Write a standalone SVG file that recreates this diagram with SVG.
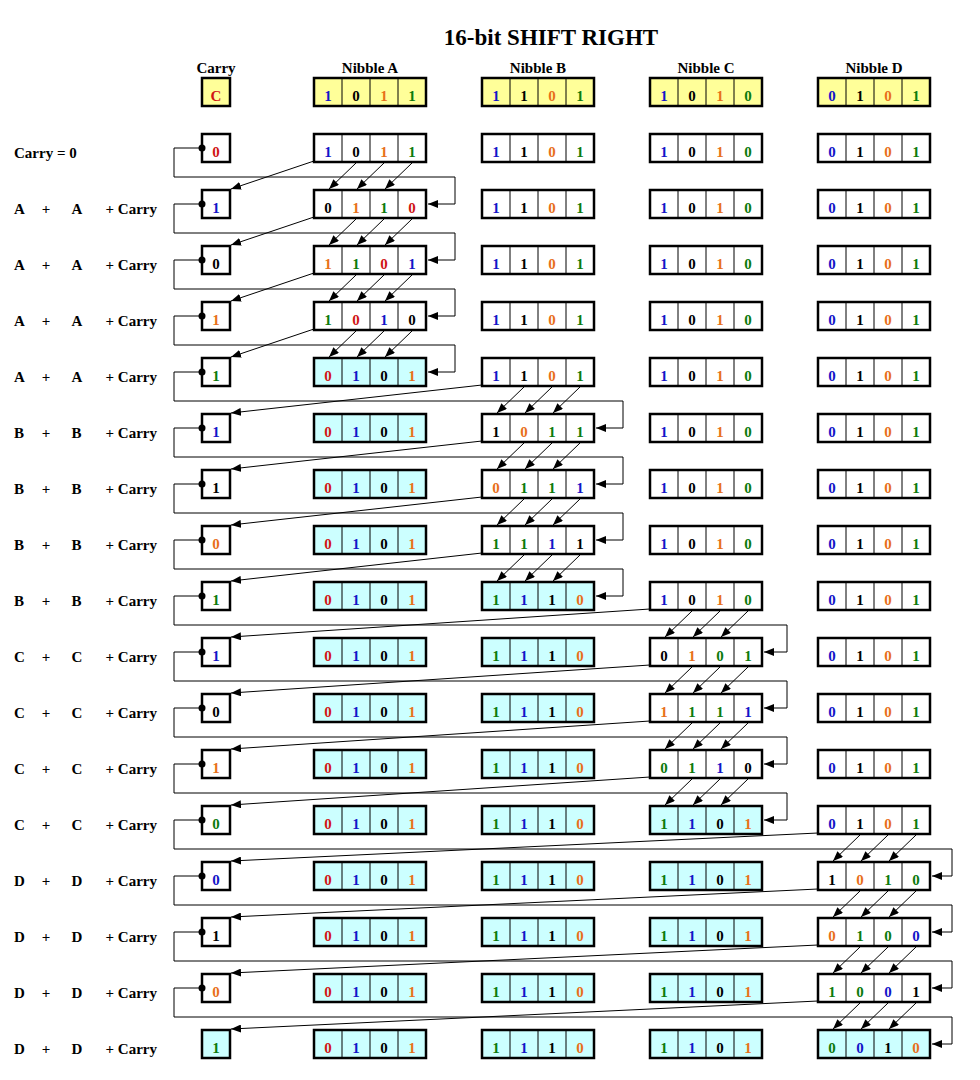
<svg xmlns="http://www.w3.org/2000/svg" xmlns:xlink="http://www.w3.org/1999/xlink" width="980" height="1080" viewBox="0 0 980 1080">
<style>
text{font-family:"Liberation Serif","Times New Roman",serif;font-weight:bold;fill:#000}
.t{font-size:23px;text-anchor:middle}
.h{font-size:15px;text-anchor:middle}
.l text{font-size:15px;fill:#000}
.l .m{text-anchor:middle}
.l .e{text-anchor:end}
.d{font-size:15px;text-anchor:middle}
.w{fill:#ffffff}.y{fill:#ffff99}.c{fill:#ccffff}
.b{fill:#1414c8}.k{fill:#000000}.o{fill:#e8701a}.g{fill:#0c7a0c}.r{fill:#d01515}
.cn path{fill:none;stroke:#000;stroke-width:1}
.cn circle{fill:#000}
.a{marker-end:url(#ah)}
</style>
<defs>
<marker id="ah" markerWidth="11" markerHeight="8" refX="10" refY="4" orient="auto" markerUnits="userSpaceOnUse"><path d="M0,0L10,4L0,8z" fill="#000"/></marker>
<g id="nib"><rect x="0" y="0" width="112" height="28" stroke="#000" stroke-width="2.5"/><path d="M28,0V28M56,0V28M84,0V28" stroke="#000" stroke-width="1" fill="none"/></g>
<rect id="cb" x="0" y="0" width="28" height="28" stroke="#000" stroke-width="2.5"/>
</defs>
<rect width="980" height="1080" fill="#fff"/>
<text class="t" x="551" y="45">16-bit SHIFT RIGHT</text>
<g id="headers">
<text class="h" x="216" y="73">Carry</text>
<text class="h" x="370" y="73">Nibble A</text>
<text class="h" x="538" y="73">Nibble B</text>
<text class="h" x="706" y="73">Nibble C</text>
<text class="h" x="874" y="73">Nibble D</text>
</g>
<g id="labels" class="l">
<text x="14" y="157.5">Carry = 0</text>
<text x="14" y="213.5">A</text><text class="m" x="46" y="213.5">+</text><text x="71.5" y="213.5">A</text><text class="e" x="157" y="213.5">+ Carry</text>
<text x="14" y="269.5">A</text><text class="m" x="46" y="269.5">+</text><text x="71.5" y="269.5">A</text><text class="e" x="157" y="269.5">+ Carry</text>
<text x="14" y="325.5">A</text><text class="m" x="46" y="325.5">+</text><text x="71.5" y="325.5">A</text><text class="e" x="157" y="325.5">+ Carry</text>
<text x="14" y="381.5">A</text><text class="m" x="46" y="381.5">+</text><text x="71.5" y="381.5">A</text><text class="e" x="157" y="381.5">+ Carry</text>
<text x="14" y="437.5">B</text><text class="m" x="46" y="437.5">+</text><text x="71.5" y="437.5">B</text><text class="e" x="157" y="437.5">+ Carry</text>
<text x="14" y="493.5">B</text><text class="m" x="46" y="493.5">+</text><text x="71.5" y="493.5">B</text><text class="e" x="157" y="493.5">+ Carry</text>
<text x="14" y="549.5">B</text><text class="m" x="46" y="549.5">+</text><text x="71.5" y="549.5">B</text><text class="e" x="157" y="549.5">+ Carry</text>
<text x="14" y="605.5">B</text><text class="m" x="46" y="605.5">+</text><text x="71.5" y="605.5">B</text><text class="e" x="157" y="605.5">+ Carry</text>
<text x="14" y="661.5">C</text><text class="m" x="46" y="661.5">+</text><text x="71.5" y="661.5">C</text><text class="e" x="157" y="661.5">+ Carry</text>
<text x="14" y="717.5">C</text><text class="m" x="46" y="717.5">+</text><text x="71.5" y="717.5">C</text><text class="e" x="157" y="717.5">+ Carry</text>
<text x="14" y="773.5">C</text><text class="m" x="46" y="773.5">+</text><text x="71.5" y="773.5">C</text><text class="e" x="157" y="773.5">+ Carry</text>
<text x="14" y="829.5">C</text><text class="m" x="46" y="829.5">+</text><text x="71.5" y="829.5">C</text><text class="e" x="157" y="829.5">+ Carry</text>
<text x="14" y="885.5">D</text><text class="m" x="46" y="885.5">+</text><text x="71.5" y="885.5">D</text><text class="e" x="157" y="885.5">+ Carry</text>
<text x="14" y="941.5">D</text><text class="m" x="46" y="941.5">+</text><text x="71.5" y="941.5">D</text><text class="e" x="157" y="941.5">+ Carry</text>
<text x="14" y="997.5">D</text><text class="m" x="46" y="997.5">+</text><text x="71.5" y="997.5">D</text><text class="e" x="157" y="997.5">+ Carry</text>
<text x="14" y="1053.5">D</text><text class="m" x="46" y="1053.5">+</text><text x="71.5" y="1053.5">D</text><text class="e" x="157" y="1053.5">+ Carry</text>
</g>

<!-- header row -->
<g id="h-carry"><use href="#cb" x="202" y="78" class="y"/><text class="d" y="101"><tspan x="216" class="r">C</tspan></text></g>
<g id="h-A"><use href="#nib" x="314" y="78" class="y"/><text class="d" y="101"><tspan x="328" class="b">1</tspan><tspan x="356" class="k">0</tspan><tspan x="384" class="o">1</tspan><tspan x="412" class="g">1</tspan></text></g>
<g id="h-B"><use href="#nib" x="482" y="78" class="y"/><text class="d" y="101"><tspan x="496" class="b">1</tspan><tspan x="524" class="k">1</tspan><tspan x="552" class="o">0</tspan><tspan x="580" class="g">1</tspan></text></g>
<g id="h-C"><use href="#nib" x="650" y="78" class="y"/><text class="d" y="101"><tspan x="664" class="b">1</tspan><tspan x="692" class="k">0</tspan><tspan x="720" class="o">1</tspan><tspan x="748" class="g">0</tspan></text></g>
<g id="h-D"><use href="#nib" x="818" y="78" class="y"/><text class="d" y="101"><tspan x="832" class="b">0</tspan><tspan x="860" class="k">1</tspan><tspan x="888" class="o">0</tspan><tspan x="916" class="g">1</tspan></text></g>

<!-- row 0 -->
<g id="r0-carry"><use href="#cb" x="202" y="134" class="w"/><text class="d" y="157"><tspan x="216" class="r">0</tspan></text></g>
<g id="r0-A"><use href="#nib" x="314" y="134" class="w"/><text class="d" y="157"><tspan x="328" class="b">1</tspan><tspan x="356" class="k">0</tspan><tspan x="384" class="o">1</tspan><tspan x="412" class="g">1</tspan></text></g>
<g id="r0-B"><use href="#nib" x="482" y="134" class="w"/><text class="d" y="157"><tspan x="496" class="b">1</tspan><tspan x="524" class="k">1</tspan><tspan x="552" class="o">0</tspan><tspan x="580" class="g">1</tspan></text></g>
<g id="r0-C"><use href="#nib" x="650" y="134" class="w"/><text class="d" y="157"><tspan x="664" class="b">1</tspan><tspan x="692" class="k">0</tspan><tspan x="720" class="o">1</tspan><tspan x="748" class="g">0</tspan></text></g>
<g id="r0-D"><use href="#nib" x="818" y="134" class="w"/><text class="d" y="157"><tspan x="832" class="b">0</tspan><tspan x="860" class="k">1</tspan><tspan x="888" class="o">0</tspan><tspan x="916" class="g">1</tspan></text></g>

<!-- row 1 -->
<g id="r1-carry"><use href="#cb" x="202" y="190" class="w"/><text class="d" y="213"><tspan x="216" class="b">1</tspan></text></g>
<g id="r1-A"><use href="#nib" x="314" y="190" class="w"/><text class="d" y="213"><tspan x="328" class="k">0</tspan><tspan x="356" class="o">1</tspan><tspan x="384" class="g">1</tspan><tspan x="412" class="r">0</tspan></text></g>
<g id="r1-B"><use href="#nib" x="482" y="190" class="w"/><text class="d" y="213"><tspan x="496" class="b">1</tspan><tspan x="524" class="k">1</tspan><tspan x="552" class="o">0</tspan><tspan x="580" class="g">1</tspan></text></g>
<g id="r1-C"><use href="#nib" x="650" y="190" class="w"/><text class="d" y="213"><tspan x="664" class="b">1</tspan><tspan x="692" class="k">0</tspan><tspan x="720" class="o">1</tspan><tspan x="748" class="g">0</tspan></text></g>
<g id="r1-D"><use href="#nib" x="818" y="190" class="w"/><text class="d" y="213"><tspan x="832" class="b">0</tspan><tspan x="860" class="k">1</tspan><tspan x="888" class="o">0</tspan><tspan x="916" class="g">1</tspan></text></g>

<!-- row 2 -->
<g id="r2-carry"><use href="#cb" x="202" y="246" class="w"/><text class="d" y="269"><tspan x="216" class="k">0</tspan></text></g>
<g id="r2-A"><use href="#nib" x="314" y="246" class="w"/><text class="d" y="269"><tspan x="328" class="o">1</tspan><tspan x="356" class="g">1</tspan><tspan x="384" class="r">0</tspan><tspan x="412" class="b">1</tspan></text></g>
<g id="r2-B"><use href="#nib" x="482" y="246" class="w"/><text class="d" y="269"><tspan x="496" class="b">1</tspan><tspan x="524" class="k">1</tspan><tspan x="552" class="o">0</tspan><tspan x="580" class="g">1</tspan></text></g>
<g id="r2-C"><use href="#nib" x="650" y="246" class="w"/><text class="d" y="269"><tspan x="664" class="b">1</tspan><tspan x="692" class="k">0</tspan><tspan x="720" class="o">1</tspan><tspan x="748" class="g">0</tspan></text></g>
<g id="r2-D"><use href="#nib" x="818" y="246" class="w"/><text class="d" y="269"><tspan x="832" class="b">0</tspan><tspan x="860" class="k">1</tspan><tspan x="888" class="o">0</tspan><tspan x="916" class="g">1</tspan></text></g>

<!-- row 3 -->
<g id="r3-carry"><use href="#cb" x="202" y="302" class="w"/><text class="d" y="325"><tspan x="216" class="o">1</tspan></text></g>
<g id="r3-A"><use href="#nib" x="314" y="302" class="w"/><text class="d" y="325"><tspan x="328" class="g">1</tspan><tspan x="356" class="r">0</tspan><tspan x="384" class="b">1</tspan><tspan x="412" class="k">0</tspan></text></g>
<g id="r3-B"><use href="#nib" x="482" y="302" class="w"/><text class="d" y="325"><tspan x="496" class="b">1</tspan><tspan x="524" class="k">1</tspan><tspan x="552" class="o">0</tspan><tspan x="580" class="g">1</tspan></text></g>
<g id="r3-C"><use href="#nib" x="650" y="302" class="w"/><text class="d" y="325"><tspan x="664" class="b">1</tspan><tspan x="692" class="k">0</tspan><tspan x="720" class="o">1</tspan><tspan x="748" class="g">0</tspan></text></g>
<g id="r3-D"><use href="#nib" x="818" y="302" class="w"/><text class="d" y="325"><tspan x="832" class="b">0</tspan><tspan x="860" class="k">1</tspan><tspan x="888" class="o">0</tspan><tspan x="916" class="g">1</tspan></text></g>

<!-- row 4 -->
<g id="r4-carry"><use href="#cb" x="202" y="358" class="w"/><text class="d" y="381"><tspan x="216" class="g">1</tspan></text></g>
<g id="r4-A"><use href="#nib" x="314" y="358" class="c"/><text class="d" y="381"><tspan x="328" class="r">0</tspan><tspan x="356" class="b">1</tspan><tspan x="384" class="k">0</tspan><tspan x="412" class="o">1</tspan></text></g>
<g id="r4-B"><use href="#nib" x="482" y="358" class="w"/><text class="d" y="381"><tspan x="496" class="b">1</tspan><tspan x="524" class="k">1</tspan><tspan x="552" class="o">0</tspan><tspan x="580" class="g">1</tspan></text></g>
<g id="r4-C"><use href="#nib" x="650" y="358" class="w"/><text class="d" y="381"><tspan x="664" class="b">1</tspan><tspan x="692" class="k">0</tspan><tspan x="720" class="o">1</tspan><tspan x="748" class="g">0</tspan></text></g>
<g id="r4-D"><use href="#nib" x="818" y="358" class="w"/><text class="d" y="381"><tspan x="832" class="b">0</tspan><tspan x="860" class="k">1</tspan><tspan x="888" class="o">0</tspan><tspan x="916" class="g">1</tspan></text></g>

<!-- row 5 -->
<g id="r5-carry"><use href="#cb" x="202" y="414" class="w"/><text class="d" y="437"><tspan x="216" class="b">1</tspan></text></g>
<g id="r5-A"><use href="#nib" x="314" y="414" class="c"/><text class="d" y="437"><tspan x="328" class="r">0</tspan><tspan x="356" class="b">1</tspan><tspan x="384" class="k">0</tspan><tspan x="412" class="o">1</tspan></text></g>
<g id="r5-B"><use href="#nib" x="482" y="414" class="w"/><text class="d" y="437"><tspan x="496" class="k">1</tspan><tspan x="524" class="o">0</tspan><tspan x="552" class="g">1</tspan><tspan x="580" class="g">1</tspan></text></g>
<g id="r5-C"><use href="#nib" x="650" y="414" class="w"/><text class="d" y="437"><tspan x="664" class="b">1</tspan><tspan x="692" class="k">0</tspan><tspan x="720" class="o">1</tspan><tspan x="748" class="g">0</tspan></text></g>
<g id="r5-D"><use href="#nib" x="818" y="414" class="w"/><text class="d" y="437"><tspan x="832" class="b">0</tspan><tspan x="860" class="k">1</tspan><tspan x="888" class="o">0</tspan><tspan x="916" class="g">1</tspan></text></g>

<!-- row 6 -->
<g id="r6-carry"><use href="#cb" x="202" y="470" class="w"/><text class="d" y="493"><tspan x="216" class="k">1</tspan></text></g>
<g id="r6-A"><use href="#nib" x="314" y="470" class="c"/><text class="d" y="493"><tspan x="328" class="r">0</tspan><tspan x="356" class="b">1</tspan><tspan x="384" class="k">0</tspan><tspan x="412" class="o">1</tspan></text></g>
<g id="r6-B"><use href="#nib" x="482" y="470" class="w"/><text class="d" y="493"><tspan x="496" class="o">0</tspan><tspan x="524" class="g">1</tspan><tspan x="552" class="g">1</tspan><tspan x="580" class="b">1</tspan></text></g>
<g id="r6-C"><use href="#nib" x="650" y="470" class="w"/><text class="d" y="493"><tspan x="664" class="b">1</tspan><tspan x="692" class="k">0</tspan><tspan x="720" class="o">1</tspan><tspan x="748" class="g">0</tspan></text></g>
<g id="r6-D"><use href="#nib" x="818" y="470" class="w"/><text class="d" y="493"><tspan x="832" class="b">0</tspan><tspan x="860" class="k">1</tspan><tspan x="888" class="o">0</tspan><tspan x="916" class="g">1</tspan></text></g>

<!-- row 7 -->
<g id="r7-carry"><use href="#cb" x="202" y="526" class="w"/><text class="d" y="549"><tspan x="216" class="o">0</tspan></text></g>
<g id="r7-A"><use href="#nib" x="314" y="526" class="c"/><text class="d" y="549"><tspan x="328" class="r">0</tspan><tspan x="356" class="b">1</tspan><tspan x="384" class="k">0</tspan><tspan x="412" class="o">1</tspan></text></g>
<g id="r7-B"><use href="#nib" x="482" y="526" class="w"/><text class="d" y="549"><tspan x="496" class="g">1</tspan><tspan x="524" class="g">1</tspan><tspan x="552" class="b">1</tspan><tspan x="580" class="k">1</tspan></text></g>
<g id="r7-C"><use href="#nib" x="650" y="526" class="w"/><text class="d" y="549"><tspan x="664" class="b">1</tspan><tspan x="692" class="k">0</tspan><tspan x="720" class="o">1</tspan><tspan x="748" class="g">0</tspan></text></g>
<g id="r7-D"><use href="#nib" x="818" y="526" class="w"/><text class="d" y="549"><tspan x="832" class="b">0</tspan><tspan x="860" class="k">1</tspan><tspan x="888" class="o">0</tspan><tspan x="916" class="g">1</tspan></text></g>

<!-- row 8 -->
<g id="r8-carry"><use href="#cb" x="202" y="582" class="w"/><text class="d" y="605"><tspan x="216" class="g">1</tspan></text></g>
<g id="r8-A"><use href="#nib" x="314" y="582" class="c"/><text class="d" y="605"><tspan x="328" class="r">0</tspan><tspan x="356" class="b">1</tspan><tspan x="384" class="k">0</tspan><tspan x="412" class="o">1</tspan></text></g>
<g id="r8-B"><use href="#nib" x="482" y="582" class="c"/><text class="d" y="605"><tspan x="496" class="g">1</tspan><tspan x="524" class="b">1</tspan><tspan x="552" class="k">1</tspan><tspan x="580" class="o">0</tspan></text></g>
<g id="r8-C"><use href="#nib" x="650" y="582" class="w"/><text class="d" y="605"><tspan x="664" class="b">1</tspan><tspan x="692" class="k">0</tspan><tspan x="720" class="o">1</tspan><tspan x="748" class="g">0</tspan></text></g>
<g id="r8-D"><use href="#nib" x="818" y="582" class="w"/><text class="d" y="605"><tspan x="832" class="b">0</tspan><tspan x="860" class="k">1</tspan><tspan x="888" class="o">0</tspan><tspan x="916" class="g">1</tspan></text></g>

<!-- row 9 -->
<g id="r9-carry"><use href="#cb" x="202" y="638" class="w"/><text class="d" y="661"><tspan x="216" class="b">1</tspan></text></g>
<g id="r9-A"><use href="#nib" x="314" y="638" class="c"/><text class="d" y="661"><tspan x="328" class="r">0</tspan><tspan x="356" class="b">1</tspan><tspan x="384" class="k">0</tspan><tspan x="412" class="o">1</tspan></text></g>
<g id="r9-B"><use href="#nib" x="482" y="638" class="c"/><text class="d" y="661"><tspan x="496" class="g">1</tspan><tspan x="524" class="b">1</tspan><tspan x="552" class="k">1</tspan><tspan x="580" class="o">0</tspan></text></g>
<g id="r9-C"><use href="#nib" x="650" y="638" class="w"/><text class="d" y="661"><tspan x="664" class="k">0</tspan><tspan x="692" class="o">1</tspan><tspan x="720" class="g">0</tspan><tspan x="748" class="g">1</tspan></text></g>
<g id="r9-D"><use href="#nib" x="818" y="638" class="w"/><text class="d" y="661"><tspan x="832" class="b">0</tspan><tspan x="860" class="k">1</tspan><tspan x="888" class="o">0</tspan><tspan x="916" class="g">1</tspan></text></g>

<!-- row 10 -->
<g id="r10-carry"><use href="#cb" x="202" y="694" class="w"/><text class="d" y="717"><tspan x="216" class="k">0</tspan></text></g>
<g id="r10-A"><use href="#nib" x="314" y="694" class="c"/><text class="d" y="717"><tspan x="328" class="r">0</tspan><tspan x="356" class="b">1</tspan><tspan x="384" class="k">0</tspan><tspan x="412" class="o">1</tspan></text></g>
<g id="r10-B"><use href="#nib" x="482" y="694" class="c"/><text class="d" y="717"><tspan x="496" class="g">1</tspan><tspan x="524" class="b">1</tspan><tspan x="552" class="k">1</tspan><tspan x="580" class="o">0</tspan></text></g>
<g id="r10-C"><use href="#nib" x="650" y="694" class="w"/><text class="d" y="717"><tspan x="664" class="o">1</tspan><tspan x="692" class="g">1</tspan><tspan x="720" class="g">1</tspan><tspan x="748" class="b">1</tspan></text></g>
<g id="r10-D"><use href="#nib" x="818" y="694" class="w"/><text class="d" y="717"><tspan x="832" class="b">0</tspan><tspan x="860" class="k">1</tspan><tspan x="888" class="o">0</tspan><tspan x="916" class="g">1</tspan></text></g>

<!-- row 11 -->
<g id="r11-carry"><use href="#cb" x="202" y="750" class="w"/><text class="d" y="773"><tspan x="216" class="o">1</tspan></text></g>
<g id="r11-A"><use href="#nib" x="314" y="750" class="c"/><text class="d" y="773"><tspan x="328" class="r">0</tspan><tspan x="356" class="b">1</tspan><tspan x="384" class="k">0</tspan><tspan x="412" class="o">1</tspan></text></g>
<g id="r11-B"><use href="#nib" x="482" y="750" class="c"/><text class="d" y="773"><tspan x="496" class="g">1</tspan><tspan x="524" class="b">1</tspan><tspan x="552" class="k">1</tspan><tspan x="580" class="o">0</tspan></text></g>
<g id="r11-C"><use href="#nib" x="650" y="750" class="w"/><text class="d" y="773"><tspan x="664" class="g">0</tspan><tspan x="692" class="g">1</tspan><tspan x="720" class="b">1</tspan><tspan x="748" class="k">0</tspan></text></g>
<g id="r11-D"><use href="#nib" x="818" y="750" class="w"/><text class="d" y="773"><tspan x="832" class="b">0</tspan><tspan x="860" class="k">1</tspan><tspan x="888" class="o">0</tspan><tspan x="916" class="g">1</tspan></text></g>

<!-- row 12 -->
<g id="r12-carry"><use href="#cb" x="202" y="806" class="w"/><text class="d" y="829"><tspan x="216" class="g">0</tspan></text></g>
<g id="r12-A"><use href="#nib" x="314" y="806" class="c"/><text class="d" y="829"><tspan x="328" class="r">0</tspan><tspan x="356" class="b">1</tspan><tspan x="384" class="k">0</tspan><tspan x="412" class="o">1</tspan></text></g>
<g id="r12-B"><use href="#nib" x="482" y="806" class="c"/><text class="d" y="829"><tspan x="496" class="g">1</tspan><tspan x="524" class="b">1</tspan><tspan x="552" class="k">1</tspan><tspan x="580" class="o">0</tspan></text></g>
<g id="r12-C"><use href="#nib" x="650" y="806" class="c"/><text class="d" y="829"><tspan x="664" class="g">1</tspan><tspan x="692" class="b">1</tspan><tspan x="720" class="k">0</tspan><tspan x="748" class="o">1</tspan></text></g>
<g id="r12-D"><use href="#nib" x="818" y="806" class="w"/><text class="d" y="829"><tspan x="832" class="b">0</tspan><tspan x="860" class="k">1</tspan><tspan x="888" class="o">0</tspan><tspan x="916" class="g">1</tspan></text></g>

<!-- row 13 -->
<g id="r13-carry"><use href="#cb" x="202" y="862" class="w"/><text class="d" y="885"><tspan x="216" class="b">0</tspan></text></g>
<g id="r13-A"><use href="#nib" x="314" y="862" class="c"/><text class="d" y="885"><tspan x="328" class="r">0</tspan><tspan x="356" class="b">1</tspan><tspan x="384" class="k">0</tspan><tspan x="412" class="o">1</tspan></text></g>
<g id="r13-B"><use href="#nib" x="482" y="862" class="c"/><text class="d" y="885"><tspan x="496" class="g">1</tspan><tspan x="524" class="b">1</tspan><tspan x="552" class="k">1</tspan><tspan x="580" class="o">0</tspan></text></g>
<g id="r13-C"><use href="#nib" x="650" y="862" class="c"/><text class="d" y="885"><tspan x="664" class="g">1</tspan><tspan x="692" class="b">1</tspan><tspan x="720" class="k">0</tspan><tspan x="748" class="o">1</tspan></text></g>
<g id="r13-D"><use href="#nib" x="818" y="862" class="w"/><text class="d" y="885"><tspan x="832" class="k">1</tspan><tspan x="860" class="o">0</tspan><tspan x="888" class="g">1</tspan><tspan x="916" class="g">0</tspan></text></g>

<!-- row 14 -->
<g id="r14-carry"><use href="#cb" x="202" y="918" class="w"/><text class="d" y="941"><tspan x="216" class="k">1</tspan></text></g>
<g id="r14-A"><use href="#nib" x="314" y="918" class="c"/><text class="d" y="941"><tspan x="328" class="r">0</tspan><tspan x="356" class="b">1</tspan><tspan x="384" class="k">0</tspan><tspan x="412" class="o">1</tspan></text></g>
<g id="r14-B"><use href="#nib" x="482" y="918" class="c"/><text class="d" y="941"><tspan x="496" class="g">1</tspan><tspan x="524" class="b">1</tspan><tspan x="552" class="k">1</tspan><tspan x="580" class="o">0</tspan></text></g>
<g id="r14-C"><use href="#nib" x="650" y="918" class="c"/><text class="d" y="941"><tspan x="664" class="g">1</tspan><tspan x="692" class="b">1</tspan><tspan x="720" class="k">0</tspan><tspan x="748" class="o">1</tspan></text></g>
<g id="r14-D"><use href="#nib" x="818" y="918" class="w"/><text class="d" y="941"><tspan x="832" class="o">0</tspan><tspan x="860" class="g">1</tspan><tspan x="888" class="g">0</tspan><tspan x="916" class="b">0</tspan></text></g>

<!-- row 15 -->
<g id="r15-carry"><use href="#cb" x="202" y="974" class="w"/><text class="d" y="997"><tspan x="216" class="o">0</tspan></text></g>
<g id="r15-A"><use href="#nib" x="314" y="974" class="c"/><text class="d" y="997"><tspan x="328" class="r">0</tspan><tspan x="356" class="b">1</tspan><tspan x="384" class="k">0</tspan><tspan x="412" class="o">1</tspan></text></g>
<g id="r15-B"><use href="#nib" x="482" y="974" class="c"/><text class="d" y="997"><tspan x="496" class="g">1</tspan><tspan x="524" class="b">1</tspan><tspan x="552" class="k">1</tspan><tspan x="580" class="o">0</tspan></text></g>
<g id="r15-C"><use href="#nib" x="650" y="974" class="c"/><text class="d" y="997"><tspan x="664" class="g">1</tspan><tspan x="692" class="b">1</tspan><tspan x="720" class="k">0</tspan><tspan x="748" class="o">1</tspan></text></g>
<g id="r15-D"><use href="#nib" x="818" y="974" class="w"/><text class="d" y="997"><tspan x="832" class="g">1</tspan><tspan x="860" class="g">0</tspan><tspan x="888" class="b">0</tspan><tspan x="916" class="k">1</tspan></text></g>

<!-- row 16 -->
<g id="r16-carry"><use href="#cb" x="202" y="1030" class="c"/><text class="d" y="1053"><tspan x="216" class="g">1</tspan></text></g>
<g id="r16-A"><use href="#nib" x="314" y="1030" class="c"/><text class="d" y="1053"><tspan x="328" class="r">0</tspan><tspan x="356" class="b">1</tspan><tspan x="384" class="k">0</tspan><tspan x="412" class="o">1</tspan></text></g>
<g id="r16-B"><use href="#nib" x="482" y="1030" class="c"/><text class="d" y="1053"><tspan x="496" class="g">1</tspan><tspan x="524" class="b">1</tspan><tspan x="552" class="k">1</tspan><tspan x="580" class="o">0</tspan></text></g>
<g id="r16-C"><use href="#nib" x="650" y="1030" class="c"/><text class="d" y="1053"><tspan x="664" class="g">1</tspan><tspan x="692" class="b">1</tspan><tspan x="720" class="k">0</tspan><tspan x="748" class="o">1</tspan></text></g>
<g id="r16-D"><use href="#nib" x="818" y="1030" class="c"/><text class="d" y="1053"><tspan x="832" class="g">0</tspan><tspan x="860" class="b">0</tspan><tspan x="888" class="k">1</tspan><tspan x="916" class="o">0</tspan></text></g>

<g id="connectors" class="cn">
<!-- step 0 (A) -->
<path class="a" d="M202,148H174V177H455V204H428"/><circle cx="202" cy="148" r="3.5"/>
<path class="a" d="M314,161L231,189"/>
<path class="a" d="M356,163L329,189"/><path class="a" d="M384,163L357,189"/><path class="a" d="M412,163L385,189"/>
<!-- step 1 -->
<path class="a" d="M202,204H174V233H455V260H428"/><circle cx="202" cy="204" r="3.5"/>
<path class="a" d="M314,217L231,245"/>
<path class="a" d="M356,219L329,245"/><path class="a" d="M384,219L357,245"/><path class="a" d="M412,219L385,245"/>
<!-- step 2 -->
<path class="a" d="M202,260H174V289H455V316H428"/><circle cx="202" cy="260" r="3.5"/>
<path class="a" d="M314,273L231,301"/>
<path class="a" d="M356,275L329,301"/><path class="a" d="M384,275L357,301"/><path class="a" d="M412,275L385,301"/>
<!-- step 3 -->
<path class="a" d="M202,316H174V345H455V372H428"/><circle cx="202" cy="316" r="3.5"/>
<path class="a" d="M314,329L231,357"/>
<path class="a" d="M356,331L329,357"/><path class="a" d="M384,331L357,357"/><path class="a" d="M412,331L385,357"/>
<!-- step 4 (B) -->
<path class="a" d="M202,372H174V401H623V428H596"/><circle cx="202" cy="372" r="3.5"/>
<path class="a" d="M482,385L231,413"/>
<path class="a" d="M524,387L497,413"/><path class="a" d="M552,387L525,413"/><path class="a" d="M580,387L553,413"/>
<!-- step 5 -->
<path class="a" d="M202,428H174V457H623V484H596"/><circle cx="202" cy="428" r="3.5"/>
<path class="a" d="M482,441L231,469"/>
<path class="a" d="M524,443L497,469"/><path class="a" d="M552,443L525,469"/><path class="a" d="M580,443L553,469"/>
<!-- step 6 -->
<path class="a" d="M202,484H174V513H623V540H596"/><circle cx="202" cy="484" r="3.5"/>
<path class="a" d="M482,497L231,525"/>
<path class="a" d="M524,499L497,525"/><path class="a" d="M552,499L525,525"/><path class="a" d="M580,499L553,525"/>
<!-- step 7 -->
<path class="a" d="M202,540H174V569H623V596H596"/><circle cx="202" cy="540" r="3.5"/>
<path class="a" d="M482,553L231,581"/>
<path class="a" d="M524,555L497,581"/><path class="a" d="M552,555L525,581"/><path class="a" d="M580,555L553,581"/>
<!-- step 8 (C) -->
<path class="a" d="M202,596H174V625H787V652H764"/><circle cx="202" cy="596" r="3.5"/>
<path class="a" d="M650,609L231,637"/>
<path class="a" d="M692,611L665,637"/><path class="a" d="M720,611L693,637"/><path class="a" d="M748,611L721,637"/>
<!-- step 9 -->
<path class="a" d="M202,652H174V681H787V708H764"/><circle cx="202" cy="652" r="3.5"/>
<path class="a" d="M650,665L231,693"/>
<path class="a" d="M692,667L665,693"/><path class="a" d="M720,667L693,693"/><path class="a" d="M748,667L721,693"/>
<!-- step 10 -->
<path class="a" d="M202,708H174V737H787V764H764"/><circle cx="202" cy="708" r="3.5"/>
<path class="a" d="M650,721L231,749"/>
<path class="a" d="M692,723L665,749"/><path class="a" d="M720,723L693,749"/><path class="a" d="M748,723L721,749"/>
<!-- step 11 -->
<path class="a" d="M202,764H174V793H787V820H764"/><circle cx="202" cy="764" r="3.5"/>
<path class="a" d="M650,777L231,805"/>
<path class="a" d="M692,779L665,805"/><path class="a" d="M720,779L693,805"/><path class="a" d="M748,779L721,805"/>
<!-- step 12 (D) -->
<path class="a" d="M202,820H174V849H952V876H932"/><circle cx="202" cy="820" r="3.5"/>
<path class="a" d="M818,833L231,861"/>
<path class="a" d="M860,835L833,861"/><path class="a" d="M888,835L861,861"/><path class="a" d="M916,835L889,861"/>
<!-- step 13 -->
<path class="a" d="M202,876H174V905H952V932H932"/><circle cx="202" cy="876" r="3.5"/>
<path class="a" d="M818,889L231,917"/>
<path class="a" d="M860,891L833,917"/><path class="a" d="M888,891L861,917"/><path class="a" d="M916,891L889,917"/>
<!-- step 14 -->
<path class="a" d="M202,932H174V961H952V988H932"/><circle cx="202" cy="932" r="3.5"/>
<path class="a" d="M818,945L231,973"/>
<path class="a" d="M860,947L833,973"/><path class="a" d="M888,947L861,973"/><path class="a" d="M916,947L889,973"/>
<!-- step 15 -->
<path class="a" d="M202,988H174V1017H952V1044H932"/><circle cx="202" cy="988" r="3.5"/>
<path class="a" d="M818,1001L231,1029"/>
<path class="a" d="M860,1003L833,1029"/><path class="a" d="M888,1003L861,1029"/><path class="a" d="M916,1003L889,1029"/>
</g>
</svg>
